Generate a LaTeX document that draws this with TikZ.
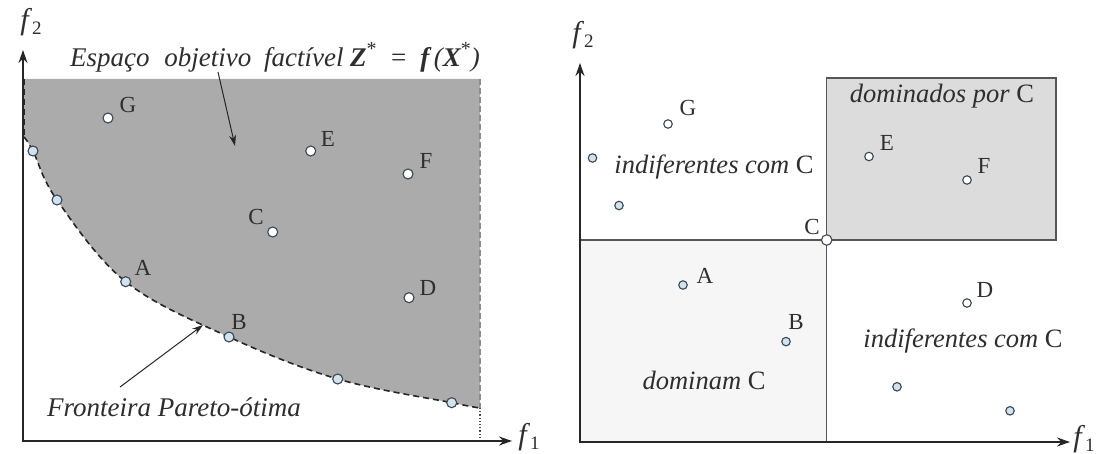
\documentclass[tikz,border=0pt]{standalone}
\usepackage{fontspec}
\setmainfont{Liberation Serif}
\usetikzlibrary{arrows.meta}
\definecolor{pareto}{HTML}{CFE4F0}
\definecolor{ptedge}{HTML}{3A4650}
\definecolor{region}{HTML}{ABABAB}
\definecolor{boxdark}{HTML}{DCDCDC}
\definecolor{boxlight}{HTML}{F6F6F6}
\definecolor{edgegray}{HTML}{555555}
\definecolor{txt}{HTML}{2E2E2E}
\begin{document}
\begin{tikzpicture}[x=1pt,y=-1pt,
  axis/.style={line width=1.6pt, draw=black!85, {Stealth[length=13pt,width=9pt]}-{Stealth[length=13pt,width=9pt]}},
  callout/.style={line width=1pt, draw=black!85, -{Stealth[length=11pt,width=7pt]}},
  pt/.style={circle, draw=ptedge, fill=white, line width=1.1pt, inner sep=0pt, minimum size=10pt},
  pb/.style={pt, fill=pareto},
  spt/.style={pt, minimum size=8.5pt},
  spb/.style={spt, fill=pareto},
  lab/.style={font=\fontsize{23}{23}\selectfont, inner sep=0pt, text=txt},
  reg/.style={font=\fontsize{26.5}{26.5}\selectfont\itshape, inner sep=0pt, text=txt},
  axlab/.style={font=\fontsize{30}{30}\selectfont, inner sep=0pt, text=txt},
  front/.style={dashed, dash pattern=on 6pt off 4pt, line width=1.6pt, draw=black!85}
]
\useasboundingbox (0,0) rectangle (1097,454);
\fill[white] (0,0) rectangle (1097,454);

% ---------------- left panel ----------------
\fill[region] plot[smooth, tension=0.6] coordinates {(24,137) (33,151) (57,200) (125.7,281.7) (229,337) (337.7,379) (451.7,402.7) (480,408)} -- (480,79) -- (24,79) -- cycle;
\draw[front] plot[smooth, tension=0.6] coordinates {(24,137) (33,151) (57,200) (125.7,281.7) (229,337) (337.7,379) (451.7,402.7) (480,408)};
\draw[front] (24.5,79) -- (24.5,137);
\draw[dashed, dash pattern=on 6pt off 3pt, line width=1.2pt, draw=black!45] (480,79) -- (480,408);
\draw[dotted, line width=1.2pt, draw=black!70] (480,408) -- (480,441);

\coordinate (Y1) at (23,50);
\coordinate (O1) at (23,441);
\coordinate (X1) at (512,441);
\draw[axis] (Y1) -- (O1) -- (X1);
\node[axlab] (f2L) at (31,22) {\textit{f}\raisebox{-0.35ex}{\fontsize{19}{19}\selectfont 2}};
\node[axlab] (f1L) at (529,437) {\textit{f}\raisebox{-0.35ex}{\fontsize{19}{19}\selectfont 1}};

\node[pb] (P1) at (33,151) {};
\node[pb] (P2) at (57,200) {};
\node[pb] (LA) at (125.7,281.7) {};
\node[pb] (LB) at (229,337) {};
\node[pb] (P5) at (337.7,379) {};
\node[pb] (P6) at (451.7,402.7) {};
\node[pt] (LG) at (108,118) {};
\node[pt] (LE) at (310.7,151) {};
\node[pt] (LF) at (408,174) {};
\node[pt] (LC) at (272.7,232) {};
\node[pt] (LD) at (409,297.7) {};
\node[lab] (tLG) at (128,105) {G};
\node[lab] (tLE) at (328,139) {E};
\node[lab] (tLF) at (426,161) {F};
\node[lab] (tLC) at (256,217) {C};
\node[lab] (tLD) at (428,288) {D};
\node[lab] (tLA) at (143,268) {A};
\node[lab] (tLB) at (239,322) {B};

\node[font=\fontsize{27}{27}\selectfont\itshape, inner sep=0pt, text=txt] (esp) at (275,57) {Espaço\hspace{8pt} objetivo\hspace{6pt} factível \textbf{Z}\raisebox{0.9ex}{\upshape\fontsize{20}{20}\selectfont *}\hspace{6pt} =\hspace{6pt} \textbf{f}\,(\textbf{X}\raisebox{0.9ex}{\upshape\fontsize{20}{20}\selectfont *})};
\coordinate (espA) at (218,72);
\coordinate (espB) at (235,146);
\draw[callout] (espA) -- (espB);

\node[reg, font=\fontsize{27}{27}\selectfont\itshape] (fro) at (174,407) {Fronteira Pareto-ótima};
\coordinate (froA) at (120,387);
\coordinate (froB) at (203,325);
\draw[callout] (froA) -- (froB);

% ---------------- right panel ----------------
\coordinate (O2) at (580,442);
\coordinate (Y2) at (580,63);
\coordinate (X2) at (1070,442);
\coordinate (Cm) at (826.7,240);
\fill[boxlight] (580,240) rectangle (826.7,442);
\fill[boxdark] (826.7,78) rectangle (1056,240);
\draw[line width=1.5pt, draw=edgegray] (826.7,240) rectangle (1056,78);
\draw[line width=1.5pt, draw=edgegray] (580,240) -- (Cm) -- (826.7,442);
\draw[axis] (Y2) -- (O2) -- (X2);
\node[axlab] (f2R) at (583,35) {\textit{f}\raisebox{-0.35ex}{\fontsize{19}{19}\selectfont 2}};
\node[axlab] (f1R) at (1084,439) {\textit{f}\raisebox{-0.35ex}{\fontsize{19}{19}\selectfont 1}};

\node[pt, minimum size=10.5pt] (RC) at (Cm) {};
\node[lab] (tRC) at (812,227) {C};

\node[spt] (RG) at (668,124) {};
\node[lab] (tRG) at (688,108) {G};
\node[spb] (R1) at (592.5,158) {};
\node[spb] (R2) at (619,205.5) {};
\node[reg] (ind1) at (714,167) {indiferentes com \upshape C};
\node[reg] (domd) at (942,96) {dominados por \upshape C};
\node[spt] (RE) at (869,156.5) {};
\node[lab] (tRE) at (887,143) {E};
\node[spt] (RF) at (967,180) {};
\node[lab] (tRF) at (984,166) {F};

\node[spb] (RA) at (683,285) {};
\node[lab] (tRA) at (705,276) {A};
\node[spb] (RB) at (786,341.6) {};
\node[lab] (tRB) at (796,322) {B};
\node[reg] (dom) at (704,380) {dominam \upshape C};

\node[spt] (RD) at (967,303) {};
\node[lab] (tRD) at (985,290) {D};
\node[reg] (ind2) at (963,341) {indiferentes com \upshape C};
\node[spb] (R3) at (897,386.8) {};
\node[spb] (R4) at (1010,410.8) {};
\end{tikzpicture}
\end{document}
